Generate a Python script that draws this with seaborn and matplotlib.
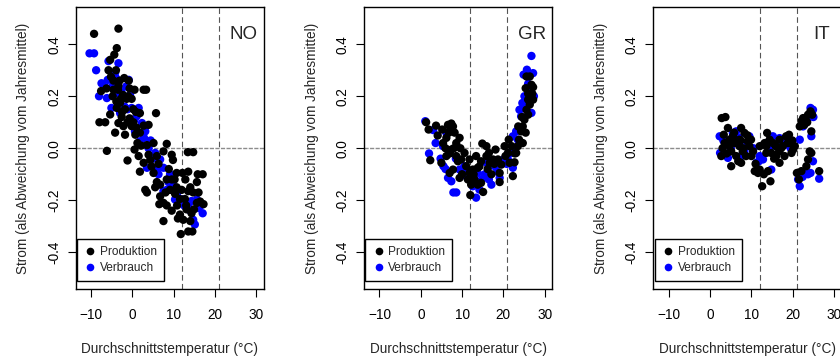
import pandas as pd
import matplotlib
matplotlib.use("Agg")
import matplotlib.pyplot as plt
import seaborn as sns
from matplotlib.lines import Line2D

sns.set_style("ticks")
plt.rcParams['font.family'] = ['Liberation Sans', 'DejaVu Sans']

# Laender und Serien
laender = ["NO", "GR", "IT"]
serien = ["Produktion", "Verbrauch"]
farben = {"Produktion": "black", "Verbrauch": "blue"}

x_ticks = [-10, 0, 10, 20, 30]
y_ticks = [-0.4, -0.2, 0.0, 0.2, 0.4]
grenzen_temp = [12, 21]

# NO - Produktion (Temperatur, Strom)
no_prod_t = [-9.3, -3.4, -3.8, -4.4, -5.4, -5.8, -4.0, -3.1, -4.6, -3.5,
             -0.9, 0.5, 2.7, 3.3, -7.6, -6.3, -4.6, -2.8, -1.4, -0.2,
             -1.8, 0.2, 1.8, 5.7, -5.4, -6.6, -8.0, -3.4, -2.2, -1.8,
             -4.2, -0.2, 0.9, 2.7, 3.9, 1.8, -6.2, -1.2, 0.5, 2.1,
             3.5, 5.1, 8.3, 3.9, 5.9, 7.5, 9.5, 9.8, 2.7, 1.8,
             5.1, 3.1, 3.5, 5.5, 6.7, 8.3, 9.5, 10.7, 12.1, 13.5,
             13.4, 14.7, 15.6, 17.0, 15.8, 14.7, 13.5, 11.9, 10.7, 9.1,
             6.7, 7.5, 6.5, 8.3, 9.5, 7.5, 11.5, 12.3, 11.7, 13.5,
             14.5, 13.1, 14.3, 15.6, 16.4, 17.2, 14.9, 12.7, 11.5, 10.3,
             5.9, 4.3, 1.5, 0.7, -3.0, -2.3, -0.7, -5.2, -3.4, -2.6,
             -0.7, 0.2, -3.8, -2.0, -1.0, -4.8, -3.9, -2.5, 0.8, -1.2,
             1.2, 4.6, 6.3, 8.8, 10.2, 12.8, 14.0, 16.0, 13.0, 10.8,
             8.0, 11.0, 14.0]
no_prod_s = [0.44, 0.46, 0.385, 0.36, 0.34, 0.30, 0.30, 0.26, 0.26, 0.225,
             0.26, 0.225, 0.225, 0.225, 0.22, 0.23, 0.225, 0.19, 0.19, 0.19,
             0.15, 0.15, 0.135, 0.135, 0.13, 0.10, 0.10, 0.097, 0.085, 0.052,
             0.06, 0.085, 0.08, 0.087, 0.09, 0.06, -0.01, -0.047, -0.005, 0.01,
             0.012, 0.02, 0.017, -0.025, -0.03, -0.012, -0.025, -0.045, -0.056, -0.09,
             -0.095, -0.16, -0.17, -0.15, -0.14, -0.12, -0.12, -0.095, -0.095, -0.09,
             -0.015, -0.015, -0.13, -0.10, -0.10, -0.17, -0.165, -0.16, -0.15, -0.16,
             -0.185, -0.21, -0.215, -0.22, -0.24, -0.28, -0.255, -0.275, -0.33, -0.32,
             -0.32, -0.235, -0.25, -0.21, -0.205, -0.215, -0.235, -0.195, -0.195, -0.175,
             -0.13, -0.045, -0.03, 0.052, 0.175, 0.205, 0.23, 0.275, 0.24, 0.12,
             0.115, 0.10, 0.155, 0.27, 0.20, 0.20, 0.18, 0.14, 0.14, 0.10,
             0.02, -0.07, -0.06, -0.08, -0.12, -0.12, -0.15, -0.17, -0.22, -0.22,
             -0.17, -0.27, -0.28]

# NO - Verbrauch
no_verb_t = [-10.4, -9.3, -5.8, -3.4, -6.0, -4.2, -6.6, -8.1, -6.2, -5.1,
             -3.0, -1.5, -0.6, -1.9, -0.2, 1.5, 2.3, 3.1, 1.8, 4.4,
             3.9, 5.5, 6.7, 7.5, 5.9, 9.1, 8.3, 9.9, 11.1, 11.9,
             13.1, 14.3, 15.6, 16.0, 17.0, 14.7, 15.1, 13.5, 10.3, 7.5,
             3.5, -3.8, -0.9, -0.2, 0.6, 1.0, -2.2, -7.5, -4.8, -2.7,
             -1.2, 0.5, 2.8, 5.0, 6.3, 8.7, 10.7, 12.5, 14.0, 16.5,
             -8.8, -4.0]
no_verb_s = [0.365, 0.365, 0.335, 0.327, 0.263, 0.29, 0.235, 0.20, 0.193, 0.155,
             0.135, 0.238, 0.205, 0.16, 0.155, 0.155, 0.097, 0.065, 0.027, 0.03,
             0.0, -0.018, -0.043, -0.075, -0.082, -0.10, -0.16, -0.146, -0.165, -0.197,
             -0.21, -0.203, -0.197, -0.23, -0.25, -0.275, -0.293, -0.223, -0.197, -0.165,
             -0.075, 0.212, 0.263, 0.104, 0.065, 0.123, 0.20, 0.25, 0.24, 0.22,
             0.15, 0.11, 0.04, -0.04, -0.10, -0.13, -0.18, -0.22, -0.24, -0.22,
             0.30, 0.27]

# GR - Produktion
gr_prod_t = [1.3, 1.9, 3.7, 2.3, 4.1, 5.2, 6.6, 7.4, 7.8, 6.9,
             6.2, 5.4, 5.0, 6.2, 7.4, 8.6, 9.4, 8.6, 7.8, 7.0,
             9.4, 9.8, 10.6, 11.0, 11.8, 12.6, 13.8, 13.0, 12.2, 12.0,
             13.8, 14.6, 15.1, 14.9, 14.6, 15.9, 16.5, 16.7, 17.5, 17.1,
             18.1, 18.7, 19.1, 19.1, 19.5, 20.3, 21.1, 21.5, 22.3, 22.7,
             23.1, 23.5, 23.8, 24.3, 24.7, 25.1, 24.7, 25.6, 26.0, 25.4,
             25.6, 26.4, 26.8, 27.2, 27.2, 26.4, 26.0, 23.6, 22.0, 21.3,
             13.4, 11.8, 15.9, 8.0, 9.0, 10.0, 6.8, 8.2, 9.6, 11.4,
             12.8, 14.2, 16.2, 17.8, 20.5, 22.8, 25.4, 24.5, 26.0, 27.0,
             7.0, 6.0]
gr_prod_s = [0.10, 0.072, 0.087, -0.046, 0.049, 0.072, 0.09, 0.095, 0.084, 0.065,
             0.04, 0.02, -0.056, -0.03, -0.005, 0.02, 0.04, -0.03, -0.082, -0.095,
             -0.114, -0.043, -0.018, -0.069, -0.095, -0.082, -0.075, -0.12, -0.14, -0.18,
             -0.14, -0.133, -0.168, 0.018, -0.05, -0.03, -0.018, -0.056, -0.043, -0.10,
             -0.005, -0.043, -0.095, -0.13, -0.063, 0.008, -0.018, -0.056, -0.107, -0.054,
             -0.018, 0.008, 0.033, 0.065, 0.084, 0.11, 0.02, 0.148, 0.187, 0.231,
             0.276, 0.276, 0.244, 0.235, 0.187, 0.168, 0.129, 0.084, 0.008, 0.033,
             -0.03, -0.043, 0.008, 0.0, -0.05, -0.10, 0.06, 0.06, 0.0, -0.12,
             -0.10, -0.07, -0.08, -0.06, -0.03, -0.02, 0.06, 0.12, 0.21, 0.21,
             -0.02, 0.0]

# GR - Verbrauch
gr_verb_t = [1.1, 2.0, 3.6, 5.5, 6.6, 7.4, 7.9, 8.6, 5.4, 6.2,
             9.4, 11.0, 12.6, 13.4, 14.2, 13.8, 15.5, 17.1, 17.9, 19.1,
             20.1, 21.9, 22.3, 22.3, 23.1, 23.9, 24.6, 25.1, 24.9, 25.7,
             26.8, 27.2, 27.4, 26.8, 24.3, 26.0, 23.5, 21.1, 15.9, 10.6,
             4.8, 6.0, 8.5, 10.2, 11.8, 14.8, 16.5, 18.5, 20.8, 24.0,
             25.5, 26.5, 22.8, 3.0]
gr_verb_s = [0.104, -0.02, 0.02, -0.069, -0.114, -0.127, -0.17, -0.17, 0.008, 0.059,
             -0.082, -0.107, -0.146, -0.19, -0.159, -0.095, -0.10, -0.14, -0.069, -0.114,
             -0.043, -0.018, -0.075, 0.046, 0.065, 0.148, 0.174, 0.20, 0.283, 0.302,
             0.355, 0.289, 0.20, 0.136, 0.123, 0.248, 0.033, -0.043, -0.056, -0.069,
             -0.04, -0.08, -0.04, -0.08, -0.12, -0.12, -0.12, -0.09, -0.06, 0.08,
             0.16, 0.23, 0.0, 0.07]

# IT - Produktion
it_prod_t = [2.8, 3.7, 2.7, 3.3, 4.3, 3.5, 4.7, 5.5, 5.1, 6.3,
             7.1, 7.5, 8.3, 7.9, 7.5, 8.7, 9.5, 9.9, 9.1, 10.4,
             10.8, 11.6, 12.0, 12.6, 13.0, 13.8, 13.6, 14.0, 14.6, 14.4,
             15.2, 14.8, 15.9, 16.0, 16.8, 16.7, 16.8, 17.6, 18.0, 18.4,
             19.1, 19.3, 19.7, 20.1, 20.5, 21.0, 21.5, 21.7, 22.1, 22.5,
             23.1, 23.7, 24.3, 24.7, 24.1, 24.5, 23.7, 23.3, 22.1, 26.4,
             24.5, 12.0, 7.1, 4.7, 5.1, 13.6, 4.0, 6.0, 6.8, 8.0,
             9.0, 10.0, 11.0, 13.2, 15.5, 17.2, 18.8, 19.9, 22.8, 23.5,
             3.0, 5.8, 7.4]
it_prod_s = [0.116, 0.12, -0.03, 0.052, 0.078, 0.02, 0.008, 0.046, -0.069, -0.03,
             0.008, 0.078, 0.059, -0.012, -0.056, -0.03, 0.008, 0.033, 0.027, -0.012,
             -0.088, -0.095, -0.082, -0.146, -0.10, 0.059, 0.008, -0.088, -0.127, 0.033,
             0.02, -0.018, 0.008, -0.03, -0.056, -0.012, 0.033, 0.008, -0.03, 0.046,
             0.052, 0.02, -0.018, -0.005, 0.008, -0.095, -0.12, 0.084, 0.104, 0.116,
             0.11, 0.129, 0.142, 0.129, -0.012, -0.018, -0.043, -0.069, -0.088, -0.088,
             0.065, 0.008, 0.033, 0.033, -0.012, -0.018, -0.02, 0.02, -0.05, 0.0,
             0.05, -0.03, -0.06, 0.02, -0.04, 0.0, 0.02, 0.03, 0.09, 0.10,
             0.0, 0.06, 0.03]

# IT - Verbrauch
it_verb_t = [2.3, 2.4, 4.3, 5.5, 6.3, 8.3, 9.5, 11.2, 12.0, 12.8,
             14.8, 15.2, 16.8, 18.0, 19.3, 21.3, 21.7, 22.9, 23.7, 24.3,
             24.9, 24.5, 24.3, 24.9, 23.7, 22.5, 21.7, 26.4, 7.5, 13.6,
             16.0, 3.9, 3.2, 5.0, 7.0, 9.0, 10.5, 11.8, 14.2, 17.0,
             19.5, 23.2, 22.4, 25.0]
it_verb_s = [0.046, -0.018, -0.037, 0.059, 0.065, -0.012, 0.046, -0.056, -0.03, -0.043,
             -0.082, 0.046, 0.039, 0.027, 0.008, -0.12, -0.146, -0.095, -0.10, -0.095,
             -0.05, 0.046, 0.155, 0.148, 0.116, 0.084, 0.033, -0.117, -0.03, 0.02,
             0.008, 0.02, 0.03, 0.0, 0.04, 0.02, 0.0, -0.05, 0.0, 0.02,
             0.0, 0.10, -0.11, 0.12]

daten = {
    ("NO", "Produktion"): (no_prod_t, no_prod_s),
    ("NO", "Verbrauch"): (no_verb_t, no_verb_s),
    ("GR", "Produktion"): (gr_prod_t, gr_prod_s),
    ("GR", "Verbrauch"): (gr_verb_t, gr_verb_s),
    ("IT", "Produktion"): (it_prod_t, it_prod_s),
    ("IT", "Verbrauch"): (it_verb_t, it_verb_s),
}

zeilen = []
# Verbrauch zuerst, damit Produktion obenauf liegt
for land in laender:
    for serie in ["Verbrauch", "Produktion"]:
        t, s = daten[(land, serie)]
        assert len(t) == len(s), (land, serie, len(t), len(s))
        for ti, si in zip(t, s):
            zeilen.append({"land": land, "serie": serie, "temp": ti, "strom": si})
df = pd.DataFrame(zeilen)

fig = plt.figure(figsize=(8.4, 3.58), dpi=100)
links = [0.0901, 0.4333, 0.7778]

for i, land in enumerate(laender):
    ax = fig.add_axes([links[i], 0.1936, 0.2242, 0.786])
    sub = df[df["land"] == land]

    for xv in grenzen_temp:
        ax.axvline(xv, color="#555555", lw=0.8, ls=(0, (5, 3)), zorder=1)
    ax.axhline(0, color="#8c8c8c", lw=1.0, ls=(0, (3, 1)), zorder=1)

    sns.scatterplot(data=sub, x="temp", y="strom", hue="serie", palette=farben,
                    s=36, linewidth=0, edgecolor="none", legend=False, ax=ax, zorder=2)

    ax.set_xlim(-13.75, 31.85)
    ax.set_ylim(-0.54, 0.542)
    ax.set_xticks(x_ticks)
    ax.set_yticks(y_ticks)
    ax.set_yticklabels([f"{v:.1f}" for v in y_ticks], rotation=90, va="center")
    ax.tick_params(axis="both", direction="out", length=5.5, width=0.8,
                   labelsize=9.8, colors="black")
    ax.tick_params(axis="x", pad=8.5)
    ax.tick_params(axis="y", pad=5)
    for sp in ax.spines.values():
        sp.set_visible(True)
        sp.set_color("black")
        sp.set_linewidth(1.0)

    ax.set_xlabel("Durchschnittstemperatur (°C)", fontsize=9.8, labelpad=14)
    ax.set_ylabel("Strom (als Abweichung vom Jahresmittel)", fontsize=9.8, labelpad=12)

    ax.text(27, 0.436, land, fontsize=13.5, ha="center", va="center")

    handles = [Line2D([], [], marker="o", ls="", color=farben[s], markersize=5.5,
                      markeredgewidth=0) for s in serien]
    leg = ax.legend(handles, serien, loc="lower left", bbox_to_anchor=(0.008, 0.027),
                    fontsize=8.6, frameon=True, fancybox=False, framealpha=1,
                    edgecolor="black", borderpad=0.6, handletextpad=0.3,
                    handlelength=1.0, labelspacing=0.3, borderaxespad=0)
    leg.get_frame().set_linewidth(1.0)

fig.savefig("out.png", dpi=100)
